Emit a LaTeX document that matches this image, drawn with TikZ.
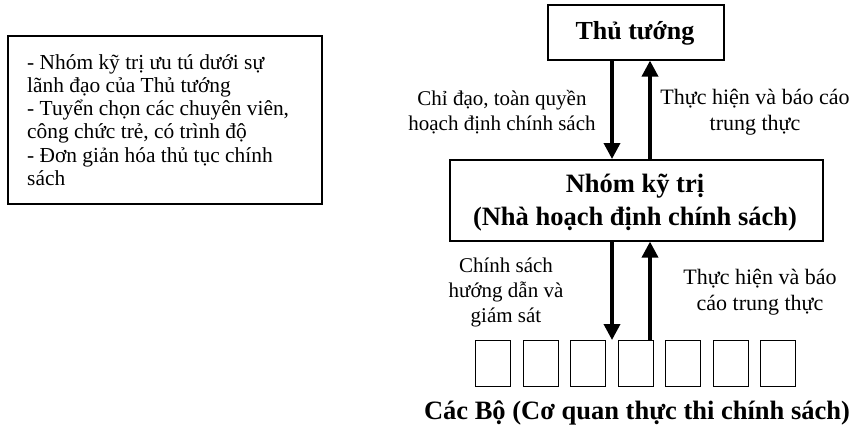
\documentclass[tikz,border=0pt]{standalone}
\usepackage{fontspec}
\setmainfont{Liberation Serif}
\usetikzlibrary{arrows.meta}
\tikzset{
  box/.style={draw, line width=1.6pt, inner sep=0pt, anchor=north west},
  arr/.style={line width=3.6pt, -{Triangle[width=16pt,length=16pt]}},
  lbl/.style={align=center, font=\fontsize{22}{26}\selectfont},
  bold/.style={align=center, font=\fontsize{26.5}{33}\selectfont\bfseries},
  mini/.style={draw, line width=1.3pt, minimum width=35pt, minimum height=46pt, inner sep=0pt, anchor=north west}
}
\begin{document}
\begin{tikzpicture}[x=1pt, y=-1pt]
\useasboundingbox (0,0) rectangle (854,431);
% note box on the left
\node[box, minimum width=314pt, minimum height=168pt] (note) at (7,35) {};
\node[anchor=north west, align=left, inner sep=0pt, font=\fontsize{21.4}{23.3}\selectfont] (notetext) at (27,54)
  {- Nhóm kỹ trị ưu tú dưới sự\\lãnh đạo của Thủ tướng\\- Tuyển chọn các chuyên viên,\\công chức trẻ, có trình độ\\- Đơn giản hóa thủ tục chính\\sách};
% hierarchy
\node[box, minimum width=176pt, minimum height=55pt] (tt) at (547,4) {};
\node[bold, font=\fontsize{26}{30}\selectfont\bfseries] (tttext) at (635,33) {Thủ tướng};
\node[box, minimum width=373pt, minimum height=81pt] (nk) at (449,159) {};
\node[bold] (nktext) at (635,203) {Nhóm kỹ trị\\(Nhà hoạch định chính sách)};
\foreach \i in {0,...,6}
  \node[mini] (b\i) at (475+47.5*\i,340) {};
\node[bold] (cap) at (637,413) {Các Bộ (Cơ quan thực thi chính sách)};
% arrow columns
\coordinate (dn) at (612,0);
\coordinate (up) at (650,0);
\draw[arr] (tt.south -| dn) -- (nk.north -| dn);
\draw[arr] (nk.north -| up) -- (tt.south -| up);
\draw[arr] (nk.south -| dn) -- (b3.north -| dn);
\draw[arr] (b3.north -| up) -- (nk.south -| up);
% arrow labels
\node[lbl, font=\fontsize{21}{25}\selectfont] (l1) at (502,112) {Chỉ đạo, toàn quyền\\hoạch định chính sách};
\node[lbl] (l2) at (755,112) {Thực hiện và báo cáo\\trung thực};
\node[lbl, font=\fontsize{21}{25}\selectfont] (l3) at (506,292) {Chính sách\\hướng dẫn và\\giám sát};
\node[lbl] (l4) at (760,292) {Thực hiện và báo\\cáo trung thực};
\end{tikzpicture}
\end{document}
